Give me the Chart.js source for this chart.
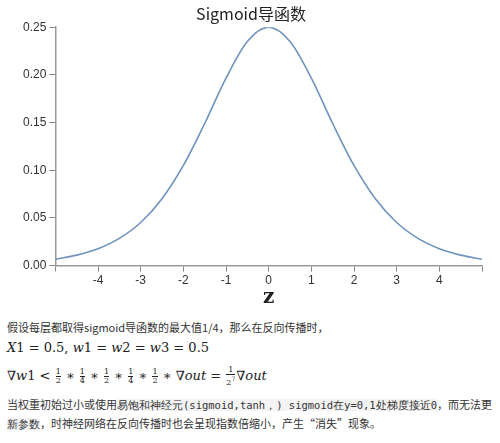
<!DOCTYPE html>
<html><head><meta charset="utf-8">
<script src="https://cdn.jsdelivr.net/npm/chart.js@4"></script>
<style>
body{margin:0;background:#fff;width:500px;height:443px;overflow:hidden;font-family:"Noto Sans CJK SC","Noto Sans",sans-serif;}
#wrap{position:absolute;left:0;top:0;width:500px;height:310px;}
.t{position:absolute;left:7px;font-size:11px;color:#333;white-space:nowrap;}
.m{font-family:"DejaVu Serif","Liberation Serif",serif;font-size:13px;color:#222;}
.m i{font-style:italic;}
.fr{display:inline-block;vertical-align:middle;text-align:center;font-size:8px;line-height:8px;margin:0 1px;}
.fr span{display:block;}
.fr .n{border-bottom:1px solid #222;}
code{font-family:"DejaVu Sans Mono",monospace;font-size:10.5px;background:#f4f4f4;}
</style></head><body>
<div id="wrap"><canvas id="c" width="500" height="310"></canvas></div>
<div class="t" style="top:319px">假设每层都取得sigmoid导函数的最大值1/4，那么在反向传播时，</div>
<div class="t m" style="top:340px"><i>X</i>1 = 0.5, <i>w</i>1 = <i>w</i>2 = <i>w</i>3 = 0.5</div>
<div class="t m" style="top:366px">∇<i>w</i>1 &lt; <span class="fr"><span class="n">1</span><span>2</span></span> ∗ <span class="fr"><span class="n">1</span><span>4</span></span> ∗ <span class="fr"><span class="n">1</span><span>2</span></span> ∗ <span class="fr"><span class="n">1</span><span>4</span></span> ∗ <span class="fr"><span class="n">1</span><span>2</span></span> ∗ ∇<i>out</i> = <span class="fr"><span class="n">1</span><span>2<sup style="font-size:6px">7</sup></span></span>∇<i>out</i></div>
<div class="t" style="top:396px">当权重初始过小或使用<code>易饱和神经元(sigmoid,tanh，) sigmoid在y=0,1处梯度接近0</code>，而无法更</div>
<div class="t" style="top:415px"><code>新参数</code>，时神经网络在反向传播时也会呈现指数倍缩小，产生“消失”现象。</div>
<script>
const zValues=[-5,-4.5,-4,-3.5,-3,-2.5,-2,-1.5,-1,-0.5,0,0.5,1,1.5,2,2.5,3,3.5,4,4.5,5];
const dValues=[0.0066,0.011,0.0177,0.0285,0.0452,0.0701,0.105,0.149,0.1966,0.235,0.25,0.235,0.1966,0.149,0.105,0.0701,0.0452,0.0285,0.0177,0.011,0.0066];
const xTicks=[-5,-4,-3,-2,-1,0,1,2,3,4,5];
const yTicks=[0,0.05,0.1,0.15,0.2,0.25];
new Chart(document.getElementById('c'),{
type:'line',
data:{datasets:[{data:zValues.map((z,i)=>({x:z,y:dValues[i]})),borderColor:'#6f93bd',borderWidth:1.6,pointRadius:0,cubicInterpolationMode:'monotone',fill:false}]},
options:{responsive:false,animation:false,
layout:{padding:{left:20,right:18,top:0,bottom:0}},
plugins:{legend:{display:false},tooltip:{enabled:false},
title:{display:true,text:'Sigmoid导函数',color:'#222',font:{size:16,weight:'normal',family:'"Noto Sans CJK SC",sans-serif'},padding:{top:4,bottom:4},align:'center'}},
scales:{
x:{type:'linear',min:-5,max:5,afterBuildTicks:a=>{a.ticks=xTicks.map(v=>({value:v}));},
ticks:{color:'#333',font:{size:12},callback:v=>Math.abs(v)===5?'':v,padding:2},
grid:{drawOnChartArea:false,drawTicks:true,tickLength:6,color:'#888'},border:{color:'#999',width:1.5},
title:{display:true,text:'z',color:'#222',font:{size:20,weight:'bold',family:'"DejaVu Serif",serif'},padding:{top:-4,bottom:0}}},
y:{min:0,max:0.25,afterBuildTicks:a=>{a.ticks=yTicks.map(v=>({value:v}));},
ticks:{color:'#333',font:{size:12},callback:v=>v.toFixed(2),padding:3},
grid:{drawOnChartArea:false,drawTicks:true,tickLength:6,color:'#888'},border:{color:'#999',width:1.5}}
}}});
</script></body></html>
